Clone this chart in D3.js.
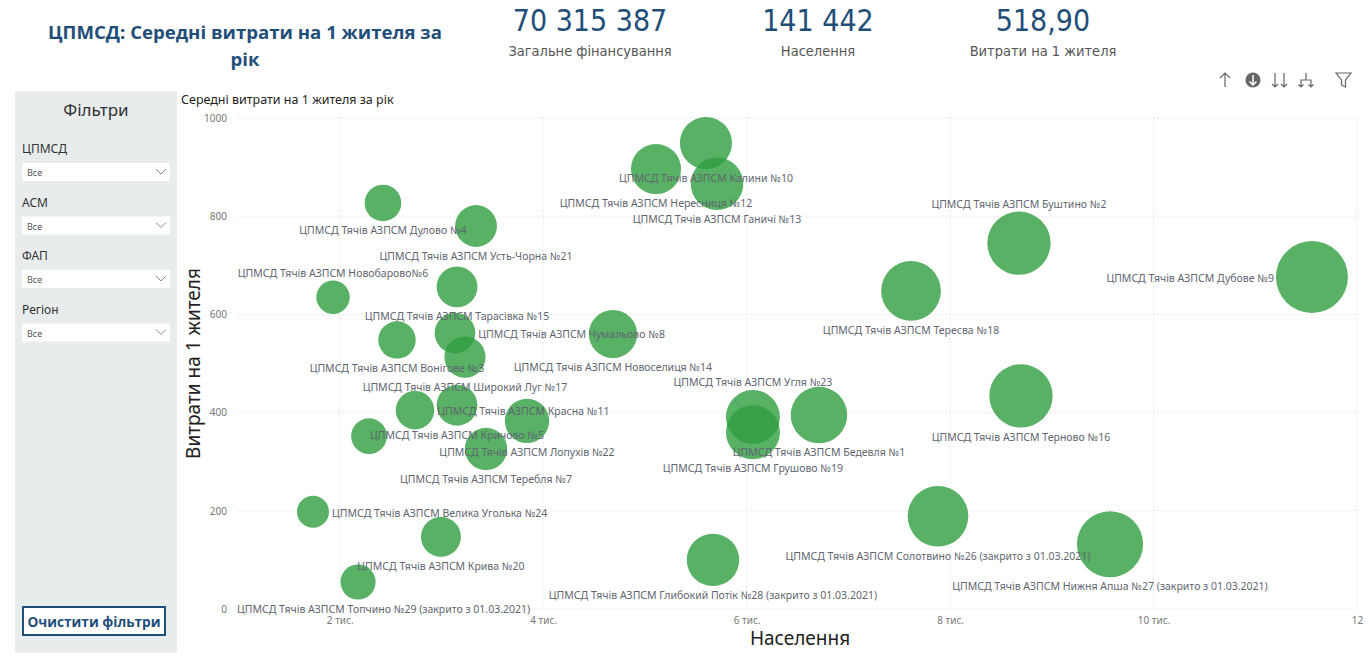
<!DOCTYPE html>
<html>
<head>
<meta charset="utf-8">
<script src="https://cdn.jsdelivr.net/npm/d3@7"></script>
<style>
  body { margin: 0; background: #fff; }
  svg { display: block; }
</style>
</head>
<body>
<div id="chart"></div>
<script>
// назви ЦПМСД (№25 без підпису на графіку)
const names = [
  "ЦПМСД Тячів АЗПСМ Калини №10",
  "ЦПМСД Тячів АЗПСМ Нересниця №12",
  "ЦПМСД Тячів АЗПСМ Ганичі №13",
  "ЦПМСД Тячів АЗПСМ Дулово №4",
  "ЦПМСД Тячів АЗПСМ Усть-Чорна №21",
  "ЦПМСД Тячів АЗПСМ Новобарово№6",
  "ЦПМСД Тячів АЗПСМ Тарасівка №15",
  "ЦПМСД Тячів АЗПСМ Чумальово №8",
  "ЦПМСД Тячів АЗПСМ Вонігове №3",
  "ЦПМСД Тячів АЗПСМ Широкий Луг №17",
  "ЦПМСД Тячів АЗПСМ Новоселиця №14",
  "ЦПМСД Тячів АЗПСМ Красна №11",
  "ЦПМСД Тячів АЗПСМ Кричово №5",
  "ЦПМСД Тячів АЗПСМ Лопухів №22",
  "ЦПМСД Тячів АЗПСМ Теребля №7",
  "ЦПМСД Тячів АЗПСМ №25",
  "ЦПМСД Тячів АЗПСМ Буштино №2",
  "ЦПМСД Тячів АЗПСМ Тересва №18",
  "ЦПМСД Тячів АЗПСМ Дубове №9",
  "ЦПМСД Тячів АЗПСМ Терново №16",
  "ЦПМСД Тячів АЗПСМ Угля №23",
  "ЦПМСД Тячів АЗПСМ Грушово №19",
  "ЦПМСД Тячів АЗПСМ Бедевля №1",
  "ЦПМСД Тячів АЗПСМ Велика Уголька №24",
  "ЦПМСД Тячів АЗПСМ Крива №20",
  "ЦПМСД Тячів АЗПСМ Солотвино №26 (закрито з 01.03.2021)",
  "ЦПМСД Тячів АЗПСМ Нижня Апша №27 (закрито з 01.03.2021)",
  "ЦПМСД Тячів АЗПСМ Глибокий Потік №28 (закрито з 01.03.2021)",
  "ЦПМСД Тячів АЗПСМ Топчино №29 (закрито з 01.03.2021)"
];
// населення (вісь X і розмір бульбашки)
const population = [
  5600, 5109, 5709, 2425, 3340, 1934, 3153, 3133, 2563, 3231,
  4686, 2740, 3153, 3841, 3438, 2288, 8677, 7616, 11557, 8697,
  6062, 6062, 6711, 1737, 2995, 7881, 9572, 5669, 2180
];
// витрати на 1 жителя за рік
const costPerResident = [
  949, 896, 866, 827, 780, 635, 656, 562, 548, 513,
  560, 405, 415, 383, 326, 352, 745, 648, 676, 434,
  391, 360, 395, 198, 147, 189, 132, 100, 55
];
// де стоїть підпис: b - знизу, a - зверху, l - ліворуч, r - праворуч, n - без підпису
const labelPlace = [
  "b", "b", "b", "b", "b", "a", "b", "r", "b", "b",
  "b", "r", "b", "b", "b", "n", "a", "b", "l", "b",
  "a", "b", "b", "r", "b", "b", "b", "b", "b"
];
const yTicks = [0, 200, 400, 600, 800, 1000];
const xTicks = [2000, 4000, 6000, 8000, 10000, 12000];
const xTickLabels = ["2 тис.", "4 тис.", "6 тис.", "8 тис.", "10 тис.", "12"];

const kpiValues = ["70 315 387", "141 442", "518,90"];
const kpiNames = ["Загальне фінансування", "Населення", "Витрати на 1 жителя"];
const filterNames = ["ЦПМСД", "АСМ", "ФАП", "Регіон"];

const W = 1369, H = 672;
const blue = "#1f4e79";
const font = "'Noto Sans', 'Open Sans', sans-serif";

const svg = d3.select("#chart").append("svg")
  .attr("width", W).attr("height", H)
  .style("font-family", font);

// ---- заголовок
const title = svg.append("text")
  .attr("text-anchor", "middle")
  .attr("fill", blue)
  .attr("font-weight", "bold")
  .attr("font-size", 18.6)
  .attr("font-family", "'Open Sans', sans-serif");
title.append("tspan").attr("x", 245).attr("y", 39).text("ЦПМСД: Середні витрати на 1 жителя за");
title.append("tspan").attr("x", 245).attr("y", 66).text("рік");

// ---- KPI картки
const kpiX = [590, 818, 1043];
kpiValues.forEach((v, i) => {
  svg.append("text")
    .attr("x", kpiX[i]).attr("y", 31)
    .attr("text-anchor", "middle")
    .attr("font-family", "'DejaVu Sans Condensed', sans-serif")
    .attr("font-size", 30)
    .attr("fill", blue)
    .text(v);
  svg.append("text")
    .attr("x", kpiX[i]).attr("y", 56)
    .attr("text-anchor", "middle")
    .attr("font-family", "'DejaVu Sans Condensed', sans-serif")
    .attr("font-size", 14.5)
    .attr("fill", "#555")
    .text(kpiNames[i]);
});

// ---- панель фільтрів
svg.append("rect")
  .attr("x", 15).attr("y", 91).attr("width", 162).attr("height", 562)
  .attr("fill", "#e9eced");
svg.append("text")
  .attr("x", 96).attr("y", 116)
  .attr("text-anchor", "middle")
  .attr("font-size", 17).attr("fill", "#333")
  .text("Фільтри");

filterNames.forEach((f, i) => {
  const y0 = 149 + i * 53.5;
  svg.append("text")
    .attr("x", 22).attr("y", y0 + 4)
    .attr("font-size", 12).attr("fill", "#333")
    .text(f);
  svg.append("rect")
    .attr("x", 22).attr("y", y0 + 14).attr("width", 148).attr("height", 18)
    .attr("fill", "#fff");
  svg.append("text")
    .attr("x", 27).attr("y", y0 + 27)
    .attr("font-size", 9).attr("fill", "#555")
    .text("Все");
  svg.append("path")
    .attr("d", `M156,${y0 + 20} l5,5 l5,-5`)
    .attr("fill", "none").attr("stroke", "#888").attr("stroke-width", 1);
});

svg.append("rect")
  .attr("x", 23).attr("y", 607).attr("width", 142).attr("height", 28)
  .attr("fill", "#fff").attr("stroke", blue).attr("stroke-width", 2);
svg.append("text")
  .attr("x", 94).attr("y", 627)
  .attr("text-anchor", "middle")
  .attr("font-family", "'Open Sans', sans-serif")
  .attr("font-weight", "bold").attr("font-size", 13.6).attr("fill", blue)
  .text("Очистити фільтри");

// ---- іконки над графіком
const ic = svg.append("g").attr("stroke", "#666").attr("fill", "none").attr("stroke-width", 1.2);
ic.append("path").attr("d", "M1225,87 V73 M1220,78 L1225,73 L1230,78");
svg.append("circle").attr("cx", 1253).attr("cy", 80).attr("r", 7.5).attr("fill", "#666");
svg.append("path").attr("d", "M1253,75 V85 M1249.5,81.5 L1253,85 L1256.5,81.5")
  .attr("stroke", "#fff").attr("stroke-width", 1.5).attr("fill", "none");
ic.append("path").attr("d", "M1275,73 V87 M1272,84 L1275,87 L1278,84 M1284,73 V87 M1281,84 L1284,87 L1287,84");
ic.append("path").attr("d", "M1306,73 V80 M1301,87 V80 H1311 V87 M1298.5,84.5 L1301,87 L1303.5,84.5 M1308.5,84.5 L1311,87 L1313.5,84.5");
ic.append("path").attr("d", "M1336,73 H1351 L1345.5,80 V87 L1341.5,85 V80 Z");

// ---- графік
const plotLeft = 238, plotRight = 1357, plotTop = 118, plotBottom = 609;

svg.append("text")
  .attr("x", 181).attr("y", 104)
  .attr("font-size", 12.5).attr("fill", "#252423")
  .text("Середні витрати на 1 жителя за рік");

const x = d3.scaleLinear().domain([1000, 12000]).range([plotLeft, plotRight]);
const y = d3.scaleLinear().domain([0, 1000]).range([plotBottom, plotTop]);
const r = d3.scaleSqrt().domain(d3.extent(population)).range([16, 36]);

// сітка
svg.append("g")
  .selectAll("line")
  .data(yTicks)
  .join("line")
  .attr("x1", plotLeft).attr("x2", plotRight)
  .attr("y1", d => y(d)).attr("y2", d => y(d))
  .attr("stroke", "#d4d4d4").attr("stroke-dasharray", "1,3");
svg.append("g")
  .selectAll("line")
  .data(xTicks)
  .join("line")
  .attr("x1", d => x(d)).attr("x2", d => x(d))
  .attr("y1", plotTop).attr("y2", plotBottom)
  .attr("stroke", "#d4d4d4").attr("stroke-dasharray", "1,3");

// вісь Y
const yAxis = svg.append("g")
  .attr("transform", `translate(${plotLeft - 8},0)`)
  .call(d3.axisLeft(y).tickValues(yTicks).tickSize(0).tickFormat(d3.format("d")));
yAxis.select(".domain").remove();
yAxis.selectAll("text").attr("font-size", 10).attr("fill", "#777").attr("font-family", font);

// вісь X
const xAxis = svg.append("g")
  .attr("transform", `translate(0,${plotBottom + 5})`)
  .call(d3.axisBottom(x).tickValues(xTicks).tickSize(0).tickFormat((d, i) => xTickLabels[i]));
xAxis.select(".domain").remove();
xAxis.selectAll("text").attr("font-size", 10).attr("fill", "#777").attr("font-family", font);

svg.append("text")
  .attr("transform", `translate(200,${(plotTop + plotBottom) / 2}) rotate(-90)`)
  .attr("text-anchor", "middle")
  .attr("font-size", 19).attr("fill", "#222")
  .text("Витрати на 1 жителя");
svg.append("text")
  .attr("x", 800).attr("y", 645)
  .attr("text-anchor", "middle")
  .attr("font-size", 19).attr("fill", "#222")
  .text("Населення");

const data = names.map((n, i) => ({
  name: n, pop: population[i], cost: costPerResident[i], place: labelPlace[i]
}));

// бульбашки
svg.append("g")
  .selectAll("circle")
  .data(data)
  .join("circle")
  .attr("cx", d => x(d.pop))
  .attr("cy", d => y(d.cost))
  .attr("r", d => r(d.pop))
  .attr("fill", "#2e9e3e")
  .attr("fill-opacity", 0.8);

// підписи
const lbl = svg.append("g")
  .selectAll("text")
  .data(data.filter(d => d.place !== "n"))
  .join("text")
  .attr("font-size", 10.5)
  .attr("fill", "#5f6670")
  .attr("dominant-baseline", "central")
  .text(d => d.name);

lbl.each(function (d) {
  const t = d3.select(this);
  const w = this.getComputedTextLength();
  const cx = x(d.pop), cy = y(d.cost), rr = r(d.pop);
  let lx, ly;
  if (d.place === "b") { lx = cx - w / 2; ly = cy + rr + 9; }
  else if (d.place === "a") { lx = cx - w / 2; ly = cy - rr - 8; }
  else if (d.place === "r") { lx = cx + rr + 3; ly = cy + 1; }
  else { lx = cx - rr - 2 - w; ly = cy + 1; }
  lx = Math.max(plotLeft - 1, Math.min(lx, W - w - 2));
  t.attr("x", lx).attr("y", ly);
});
</script>
</body>
</html>
